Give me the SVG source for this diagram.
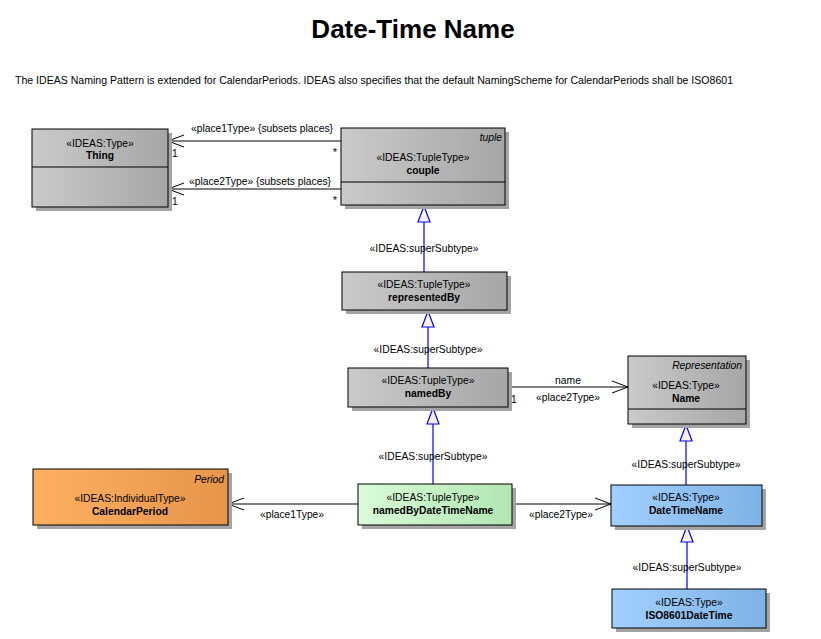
<svg xmlns="http://www.w3.org/2000/svg" width="821" height="639" viewBox="0 0 821 639">
<defs>
<linearGradient id="gGray" x1="0" y1="0" x2="1" y2="0"><stop offset="0" stop-color="#cacaca"/><stop offset="1" stop-color="#a6a6a6"/></linearGradient>
<linearGradient id="gOrange" x1="0" y1="0" x2="1" y2="0"><stop offset="0" stop-color="#fdb062"/><stop offset="1" stop-color="#e6954a"/></linearGradient>
<linearGradient id="gGreen" x1="0" y1="0" x2="1" y2="0"><stop offset="0" stop-color="#d9fbd9"/><stop offset="1" stop-color="#b2e6b2"/></linearGradient>
<linearGradient id="gBlue" x1="0" y1="0" x2="1" y2="0"><stop offset="0" stop-color="#a2cfff"/><stop offset="1" stop-color="#7fb3e5"/></linearGradient>
</defs>
<style>
text{font-family:"Liberation Sans",Arial,sans-serif;font-size:10.3px;fill:#000}
.c{text-anchor:middle}
.b{font-weight:bold}
.i{font-style:italic;text-anchor:end}
.box{stroke:#000;stroke-width:1}
.sh{fill:#a4a4a4}
.assoc{stroke:#000;stroke-width:1;fill:none}
.gen{stroke:#0000ff;stroke-width:1.2;fill:none}
.tri{stroke:#0000ff;stroke-width:1.2;fill:#fbf3e6}
</style>
<rect width="821" height="639" fill="#fff"/>
<text x="413" y="38" class="c b" style="font-size:26px">Date-Time Name</text>
<text x="15" y="84" textLength="718" lengthAdjust="spacingAndGlyphs">The IDEAS Naming Pattern is extended for CalendarPeriods. IDEAS also specifies that the default NamingScheme for CalendarPeriods shall be ISO8601</text>

<g id="connectors">
<line class="assoc" x1="168" y1="141" x2="341" y2="141"/>
<polyline class="assoc" points="184,135 168,141 184,147"/>
<text x="262" y="132" class="c">«place1Type» {subsets places}</text>
<text x="172" y="157">1</text>
<text x="333" y="156">*</text>
<line class="assoc" x1="168" y1="189" x2="341" y2="189"/>
<polyline class="assoc" points="184,183 168,189 184,195"/>
<text x="260" y="185" class="c">«place2Type» {subsets places}</text>
<text x="172" y="205">1</text>
<text x="333" y="204">*</text>

<line class="gen" x1="424" y1="222" x2="424" y2="272"/>
<polygon class="tri" points="424,206 418,222 430,222"/>
<text x="424" y="252" class="c">«IDEAS:superSubtype»</text>

<line class="gen" x1="428" y1="327" x2="428" y2="368"/>
<polygon class="tri" points="428,311 422,327 434,327"/>
<text x="428" y="353" class="c">«IDEAS:superSubtype»</text>

<line class="gen" x1="433" y1="424" x2="433" y2="484"/>
<polygon class="tri" points="433,408 427,424 439,424"/>
<text x="433" y="460" class="c">«IDEAS:superSubtype»</text>

<line class="assoc" x1="508" y1="387" x2="628" y2="387"/>
<polyline class="assoc" points="612,381 628,387 612,393"/>
<text x="568" y="384" class="c">name</text>
<text x="568" y="401" class="c">«place2Type»</text>
<text x="511" y="403">1</text>

<line class="gen" x1="686" y1="441" x2="686" y2="485"/>
<polygon class="tri" points="686,425 680,441 692,441"/>
<text x="686" y="468" class="c">«IDEAS:superSubtype»</text>

<line class="assoc" x1="358" y1="504" x2="228" y2="504"/>
<polyline class="assoc" points="244,498 228,504 244,510"/>
<text x="292" y="518" class="c">«place1Type»</text>

<line class="assoc" x1="512" y1="504" x2="611" y2="504"/>
<polyline class="assoc" points="595,498 611,504 595,510"/>
<text x="561" y="518" class="c">«place2Type»</text>

<line class="gen" x1="687" y1="542" x2="687" y2="589"/>
<polygon class="tri" points="687,526 681,542 693,542"/>
<text x="687" y="571" class="c">«IDEAS:superSubtype»</text>
</g>

<g id="Thing">
<rect class="sh" x="36" y="133" width="136" height="78"/>
<rect class="box" x="32" y="129" width="136" height="78" fill="url(#gGray)"/>
<line class="box" x1="32" y1="167" x2="168" y2="167"/>
<text x="100" y="147" class="c">«IDEAS:Type»</text>
<text x="100" y="159" class="c b">Thing</text>
</g>

<g id="couple">
<rect class="sh" x="345" y="132" width="164" height="77"/>
<rect class="box" x="341" y="128" width="164" height="77" fill="url(#gGray)"/>
<line class="box" x1="341" y1="182" x2="505" y2="182"/>
<text x="502" y="141" class="i">tuple</text>
<text x="423" y="161" class="c">«IDEAS:TupleType»</text>
<text x="423" y="174" class="c b">couple</text>
</g>

<g id="representedBy">
<rect class="sh" x="346" y="276" width="165" height="38"/>
<rect class="box" x="342" y="272" width="165" height="38" fill="url(#gGray)"/>
<text x="424" y="288" class="c">«IDEAS:TupleType»</text>
<text x="424" y="301" class="c b">representedBy</text>
</g>

<g id="namedBy">
<rect class="sh" x="352" y="372" width="160" height="39"/>
<rect class="box" x="348" y="368" width="160" height="39" fill="url(#gGray)"/>
<text x="428" y="384" class="c">«IDEAS:TupleType»</text>
<text x="428" y="397" class="c b">namedBy</text>
</g>

<g id="Name">
<rect class="sh" x="632" y="360" width="118" height="68"/>
<rect class="box" x="628" y="356" width="118" height="68" fill="url(#gGray)"/>
<line class="box" x1="628" y1="409" x2="746" y2="409"/>
<text x="742" y="369" class="i">Representation</text>
<text x="686" y="389" class="c">«IDEAS:Type»</text>
<text x="686" y="402" class="c b">Name</text>
</g>

<g id="CalendarPeriod">
<rect class="sh" x="37" y="473" width="195" height="56"/>
<rect class="box" x="33" y="469" width="195" height="56" fill="url(#gOrange)"/>
<text x="224" y="483" class="i">Period</text>
<text x="130" y="502" class="c">«IDEAS:IndividualType»</text>
<text x="130" y="515" class="c b">CalendarPeriod</text>
</g>

<g id="namedByDateTimeName">
<rect class="sh" x="362" y="488" width="154" height="41"/>
<rect class="box" x="358" y="484" width="154" height="41" fill="url(#gGreen)"/>
<text x="433" y="501" class="c">«IDEAS:TupleType»</text>
<text x="433" y="514" class="c b">namedByDateTimeName</text>
</g>

<g id="DateTimeName">
<rect class="sh" x="615" y="489" width="151" height="41"/>
<rect class="box" x="611" y="485" width="151" height="41" fill="url(#gBlue)"/>
<text x="686" y="501" class="c">«IDEAS:Type»</text>
<text x="686" y="514" class="c b">DateTimeName</text>
</g>

<g id="ISO8601DateTime">
<rect class="sh" x="616" y="593" width="154" height="39"/>
<rect class="box" x="612" y="589" width="154" height="39" fill="url(#gBlue)"/>
<text x="689" y="606" class="c">«IDEAS:Type»</text>
<text x="689" y="619" class="c b">ISO8601DateTime</text>
</g>
</svg>
